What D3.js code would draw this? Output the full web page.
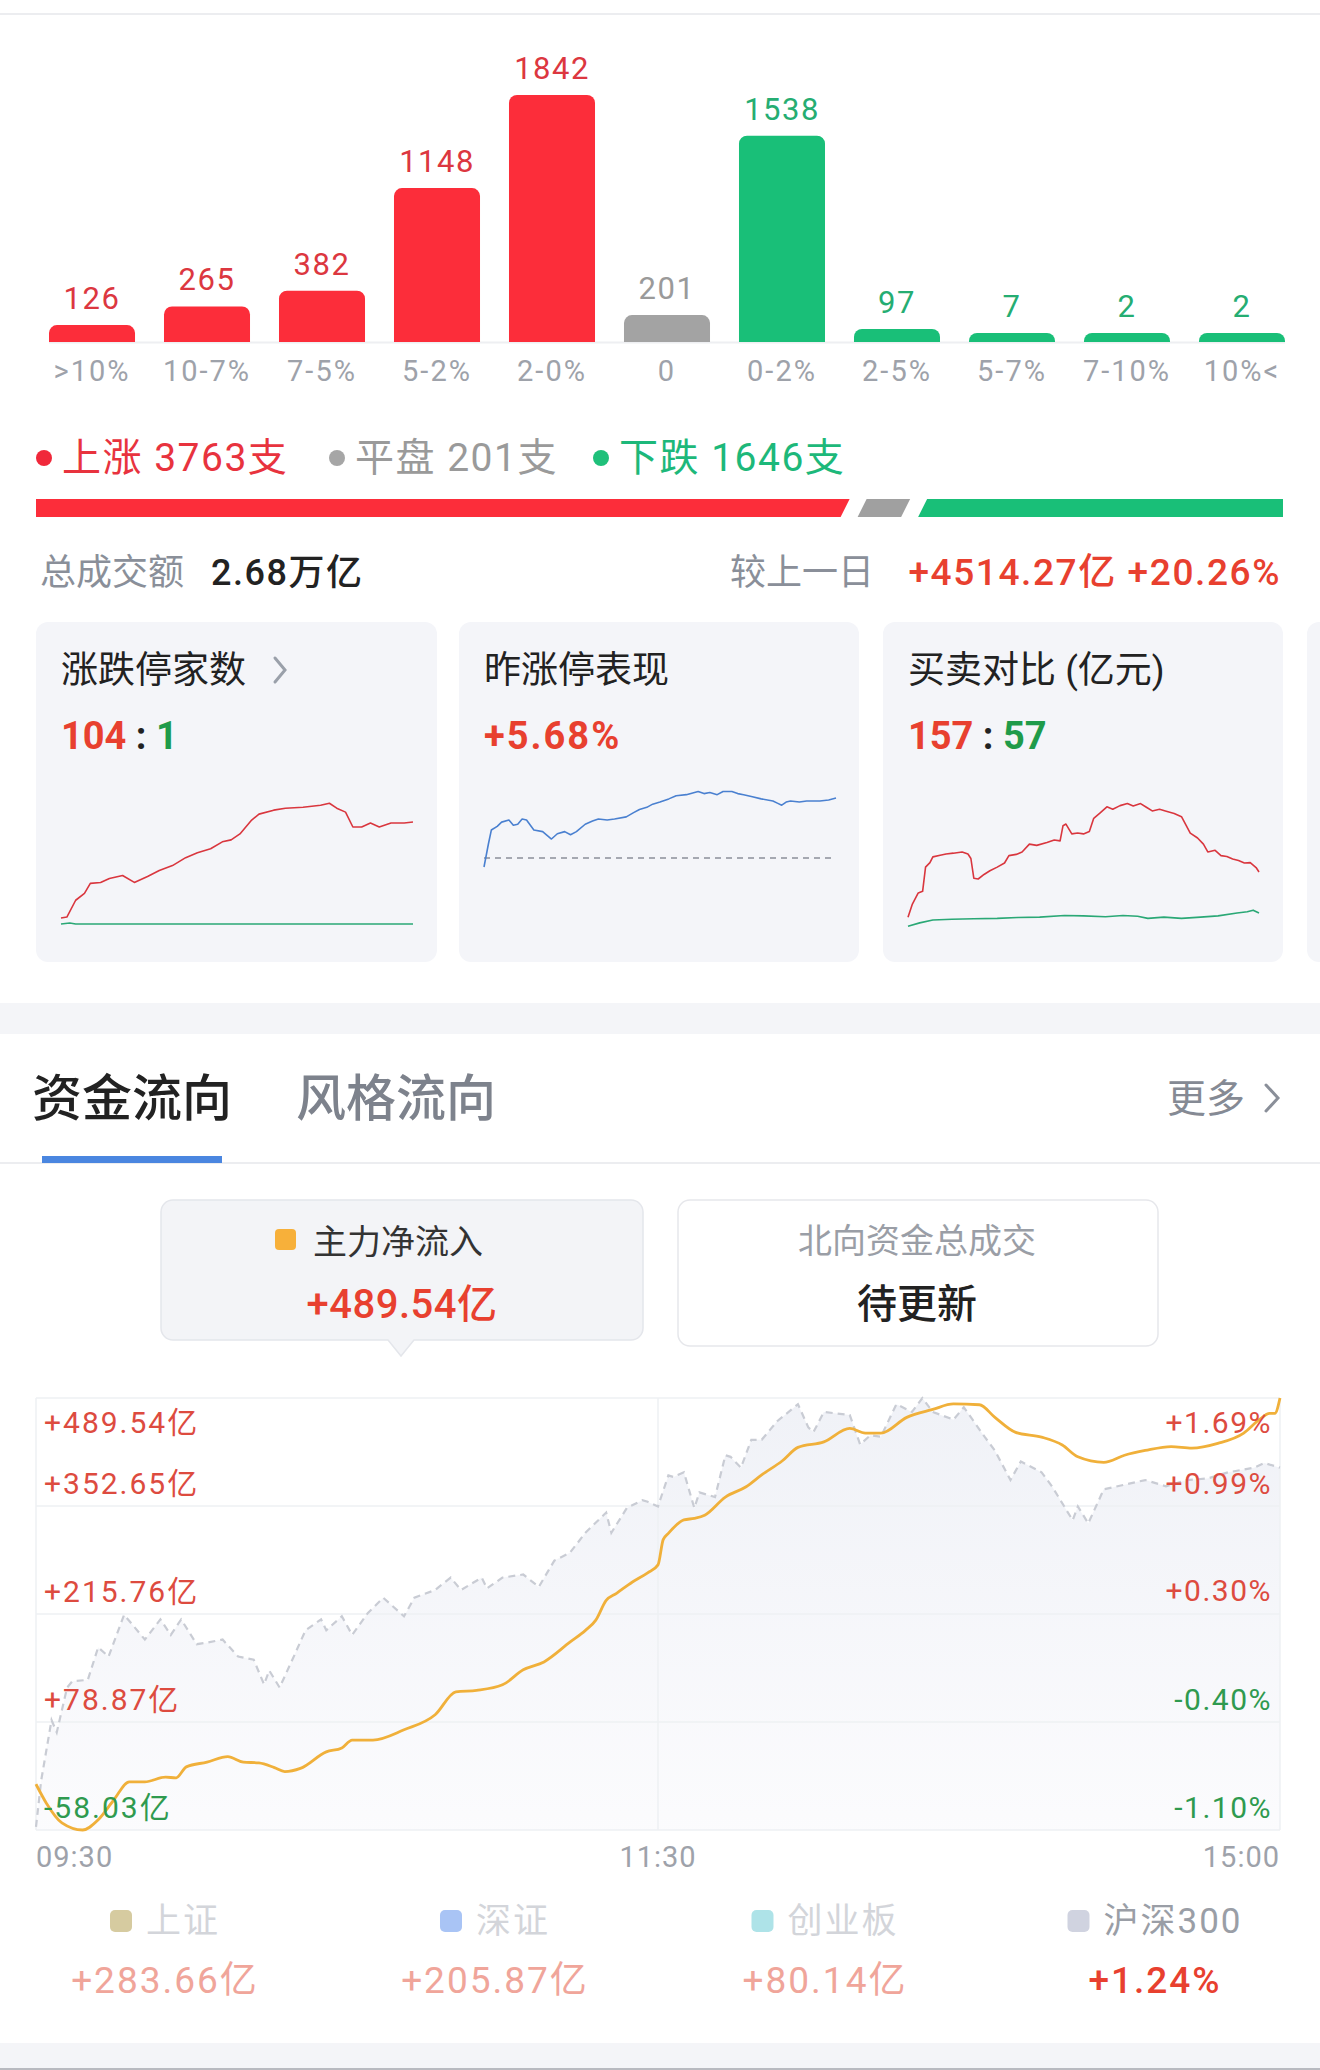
<!DOCTYPE html>
<html><head><meta charset="utf-8">
<script src="https://cdn.jsdelivr.net/npm/d3@7"></script>
<style>
html,body{margin:0;padding:0;background:#fff;}
svg{display:block;}
text{font-family:Roboto,"Noto Sans CJK SC",sans-serif;}
</style></head><body>
<svg id="c" width="1320" height="2070"></svg>
<script>
// ---------------- DATA ----------------
const bucketLabels = [">10%","10-7%","7-5%","5-2%","2-0%","0","0-2%","2-5%","5-7%","7-10%","10%<"];
const bucketCounts = [126,265,382,1148,1842,201,1538,97,7,2,2];
const bucketKinds  = ["up","up","up","up","up","flat","down","down","down","down","down"];

const breadthLabels = ["上涨","平盘","下跌"];
const breadthCounts = [3763,201,1646];

const turnoverLabel = "总成交额";
const turnoverValue = "2.68万亿";
const vsPrevLabel = "较上一日";
const vsPrevValue = "+4514.27亿 +20.26%";

const cardTitles = ["涨跌停家数","昨涨停表现","买卖对比 (亿元)"];
const limitUpCount = 104, limitDownCount = 1;
const prevLimitPerf = "+5.68%";
const buyAmount = 157, sellAmount = 57;

// mini chart series: [minute (0-240), value]
const limitUpSeries = [[0,7],[4,8],[10,25],[16,32],[20,42],[27,43],[33,47],[42,50],[50,43],[59,49],[67,55],[76,60],[85,68],[93,73],[102,77],[110,84],[116,86],[122,92],[130,106],[135,112],[145,116],[153,118],[165,119],[177,121],[183,123],[188,118],[194,114],[199,99],[205,99],[211,103],[217,99],[225,103],[234,103],[240,104]];
const limitDownSeries = [[0,1],[6,2],[10,1],[40,1],[120,1],[240,1]];
const prevLimitSeries = [[0,-0.85],[3,1.33],[5,2.65],[9,3.0],[12,3.4],[17,3.6],[20,3.1],[23,3.2],[26,3.7],[29,3.6],[34,2.65],[40,2.5],[46,1.8],[50,2.3],[55,2.5],[59,2.2],[63,2.5],[69,3.2],[74,3.5],[78,3.7],[84,3.6],[89,3.7],[97,3.9],[102,4.3],[106,4.6],[111,4.8],[115,5.1],[120,5.3],[126,5.6],[131,5.9],[138,6.0],[146,6.3],[150,6.1],[154,6.2],[159,6.0],[163,6.3],[169,6.3],[173,6.1],[177,6.0],[183,5.8],[189,5.6],[197,5.4],[200,5.2],[203,5.0],[206,5.3],[209,5.4],[215,5.3],[220,5.4],[229,5.4],[235,5.5],[240,5.68]];
const buySeries = [[0,47],[3,79],[7,106],[10,110],[12,169],[15,180],[17,194],[22,198],[26,201],[31,203],[37,206],[41,201],[43,190],[45,142],[48,140],[52,151],[56,160],[61,169],[66,179],[69,197],[74,200],[78,206],[83,225],[88,222],[95,229],[100,235],[104,233],[106,270],[108,274],[112,250],[116,252],[120,250],[124,256],[127,288],[131,300],[136,316],[140,310],[145,319],[150,324],[154,318],[159,324],[163,315],[167,306],[172,310],[176,306],[182,300],[187,292],[193,252],[198,240],[202,225],[205,206],[210,210],[214,197],[218,195],[222,189],[226,185],[230,179],[234,180],[236,174],[238,168],[240,157]];
const sellSeries = [[0,25],[8,33],[17,40],[30,42],[45,43],[61,44],[75,46],[90,47],[107,51],[120,50],[135,48],[147,51],[157,49],[164,44],[175,47],[187,44],[200,47],[212,50],[225,57],[232,60],[236,64],[240,57]];

// main chart
const mainFlowTitle = "主力净流入";
const mainFlowTotal = "+489.54亿";
const northTitle = "北向资金总成交";
const northValue = "待更新";
const leftTicks = [489.54,352.65,215.76,78.87,-58.03];
const leftTickLabels = ["+489.54亿","+352.65亿","+215.76亿","+78.87亿","-58.03亿"];
const rightTicks = [1.69,0.99,0.30,-0.40,-1.10];
const rightTickLabels = ["+1.69%","+0.99%","+0.30%","-0.40%","-1.10%"];
const timeTicks = [0,120,240];
const timeLabels = ["09:30","11:30","15:00"];
// 主力净流入 (亿), [minute, value]
const mainFlow = [[0,0],[2,-24],[5,-49],[9,-58.03],[12,-45],[15,-20],[18,3],[21,3],[25,9],[27,8],[29,22],[33,28],[37,35],[40,28],[43,27],[46,21],[48,16],[51,20],[56,41],[59,46],[61,56],[65,56],[71,69],[77,88],[81,117],[85,119],[90,126],[94,145],[98,155],[103,180],[106,195],[108,208],[110,233],[112,242],[115,256],[118,268],[120,278],[121,310],[122,318],[125,335],[127,337],[129,341],[133,364],[137,377],[140,392],[144,410],[147,427],[152,434],[157,451],[160,445],[163,445],[168,465],[173,475],[177,482],[182,481],[185,465],[189,446],[194,440],[198,430],[201,415],[206,408],[210,417],[214,423],[219,428],[223,426],[228,432],[233,445],[236,462],[238,470],[239,470],[240,489.54]];
// 沪深300 涨跌幅 (%), [minute, value]
const hs300 = [[0,-1.08],[1,-0.78],[3,-0.39],[4,-0.47],[6,-0.18],[7,-0.14],[10,-0.13],[12,0.08],[14,0.02],[17,0.29],[21,0.13],[24,0.26],[26,0.16],[28,0.26],[31,0.10],[33,0.11],[36,0.13],[39,0.02],[42,0.00],[44,-0.16],[45,-0.07],[47,-0.18],[50,0.04],[52,0.19],[55,0.26],[56,0.19],[59,0.28],[61,0.16],[64,0.30],[67,0.40],[71,0.28],[73,0.40],[77,0.45],[80,0.53],[82,0.45],[86,0.53],[87,0.46],[90,0.53],[94,0.55],[97,0.47],[100,0.64],[103,0.69],[106,0.82],[110,0.95],[111,0.82],[114,0.98],[117,1.03],[118,1.02],[120,0.99],[122,1.19],[123,1.18],[125,1.21],[127,0.98],[128,1.08],[131,1.05],[133,1.32],[134,1.31],[136,1.24],[138,1.42],[140,1.42],[143,1.54],[147,1.65],[149,1.50],[150,1.47],[152,1.60],[157,1.58],[159,1.39],[161,1.45],[163,1.44],[166,1.65],[169,1.60],[171,1.69],[173,1.60],[177,1.55],[179,1.63],[183,1.44],[185,1.35],[188,1.16],[190,1.28],[194,1.21],[196,1.12],[200,0.90],[201,0.99],[203,0.88],[206,1.10],[210,1.13],[214,1.16],[218,1.12],[222,1.16],[226,1.17],[230,1.21],[235,1.24],[237,1.27],[240,1.24]];

const tabLabels = ["资金流向","风格流向"];
const moreLabel = "更多";
const indexNames = ["上证","深证","创业板","沪深300"];
const indexValues = ["+283.66亿","+205.87亿","+80.14亿","+1.24%"];

// ---------------- DRAW ----------------
const W = 1320, H = 2070;
const svg = d3.select("#c");
const RED="#fc2d3a", GREEN="#19bf78", GRAY="#a3a3a3";
const TRED="#e8402f", TGREEN="#1f9b4a";

svg.append("rect").attr("width",W).attr("height",H).attr("fill","#fff");
svg.append("line").attr("x1",0).attr("x2",W).attr("y1",14).attr("y2",14).attr("stroke","#e6e7eb").attr("stroke-width",1.5);

function topRounded(x,y,w,h,r){
  r=Math.min(r,h,w/2);
  return `M${x},${y+h}V${y+r}A${r},${r} 0 0 1 ${x+r},${y}H${x+w-r}A${r},${r} 0 0 1 ${x+w},${y+r}V${y+h}Z`;
}

// ---- distribution bars
const xB = d3.scaleBand().domain(bucketLabels).range([49,1285]).paddingInner(0.252).paddingOuter(0);
const yB = d3.scaleLinear().domain([0,d3.max(bucketCounts)]).range([342,95]);
const barFill = {up:RED,flat:GRAY,down:GREEN};
const barText = {up:"#dc3740",flat:"#9a9a9a",down:"#25ad72"};
svg.append("line").attr("x1",49).attr("x2",1285).attr("y1",342.5).attr("y2",342.5).attr("stroke","#eeeff2").attr("stroke-width",2);
const bars = svg.append("g").selectAll("g").data(bucketLabels.map((l,i)=>({l,v:bucketCounts[i],k:bucketKinds[i]}))).join("g");
bars.append("path").attr("d",d=>{
  const h=Math.max(342-yB(d.v),9);
  return topRounded(xB(d.l),342-h,xB.bandwidth(),h,8);
}).attr("fill",d=>barFill[d.k]);
bars.append("text").attr("x",d=>xB(d.l)+xB.bandwidth()/2).attr("y",d=>342-Math.max(342-yB(d.v),9)-16)
  .attr("text-anchor","middle").attr("font-size",31).attr("letter-spacing",1.5).attr("fill",d=>barText[d.k]).text(d=>d.v);
bars.append("text").attr("x",d=>xB(d.l)+xB.bandwidth()/2).attr("y",381)
  .attr("text-anchor","middle").attr("font-size",29).attr("letter-spacing",2).attr("fill","#9ea2aa").text(d=>d.l);

// ---- breadth legend
const legCol=["#e8333e","#9a9a9a","#1db87a"];
const legDot=["#f0283a","#a6a6a6","#1fc07a"];
const legX=[44,337,601];
breadthLabels.forEach((l,i)=>{
  svg.append("circle").attr("cx",legX[i]).attr("cy",458).attr("r",8).attr("fill",legDot[i]);
  svg.append("text").attr("x",legX[i]+18).attr("y",471).attr("font-size",39).attr("letter-spacing",1.5).attr("fill",legCol[i])
    .text(`${l} ${breadthCounts[i]}支`);
});
// ---- breadth proportion bar
{
  const total=d3.sum(breadthCounts), gap=17, x0=36, x1=1283, slant=9, yt=499, yb=517;
  const wS=d3.scaleLinear().domain([0,total]).range([0,(x1-x0)-2*gap]);
  let s=x0;
  const cols=[RED,"#a0a0a0",GREEN];
  breadthCounts.forEach((c,i)=>{
    const e=s+wS(c);
    const last=i===breadthCounts.length-1, first=i===0;
    const pts=[[s,yt],[last?x1:e,yt],[last?x1:e-slant,yb],[first?s:s-slant,yb]];
    svg.append("polygon").attr("points",pts.map(p=>p.join(",")).join(" ")).attr("fill",cols[i]);
    s=e+gap;
  });
}
// ---- turnover row
svg.append("text").attr("x",40).attr("y",585).attr("font-size",36).attr("fill","#8a8f99").text(turnoverLabel);
svg.append("text").attr("x",211).attr("y",585).attr("font-size",36).attr("letter-spacing",1.5).attr("font-weight",500).attr("fill","#222").text(turnoverValue);
svg.append("text").attr("x",730).attr("y",585).attr("font-size",36).attr("fill","#8a8f99").text(vsPrevLabel);
svg.append("text").attr("x",1281).attr("y",585).attr("text-anchor","end").attr("font-size",37).attr("letter-spacing",1.6).attr("font-weight",500).attr("fill",TRED).text(vsPrevValue);

// ---- cards
const cardX=[36,459,883], cardW=[401,400,400];
cardX.forEach((x,i)=>{
  svg.append("rect").attr("x",x).attr("y",622).attr("width",cardW[i]).attr("height",340).attr("rx",12).attr("fill","#f4f5f9");
  svg.append("text").attr("x",x+25).attr("y",683).attr("font-size",37).attr("fill","#222").text(cardTitles[i]);
});
svg.append("rect").attr("x",1307).attr("y",622).attr("width",40).attr("height",340).attr("rx",12).attr("fill","#f4f5f9");
svg.append("path").attr("d","M275,658 L285,670 L275,682").attr("fill","none").attr("stroke","#9aa0aa").attr("stroke-width",3).attr("stroke-linecap","round");
function ratio(x,a,b){
  const t=svg.append("text").attr("x",x).attr("y",749).attr("font-size",38).attr("font-weight",700);
  t.append("tspan").attr("fill",TRED).text(a);
  t.append("tspan").attr("fill","#222").text(" : ");
  t.append("tspan").attr("fill",TGREEN).text(b);
}
ratio(61,limitUpCount,limitDownCount);
svg.append("text").attr("x",484).attr("y",749).attr("font-size",38).attr("letter-spacing",2).attr("font-weight",700).attr("fill",TRED).text(prevLimitPerf);
ratio(908,buyAmount,sellAmount);

// mini charts
function mini(x0,x1,domain,range,series){
  const x=d3.scaleLinear().domain([0,240]).range([x0,x1]);
  const y=d3.scaleLinear().domain(domain).range(range);
  series.forEach(s=>{
    const p=svg.append("path").attr("d",d3.line().x(d=>x(d[0])).y(d=>y(d[1]))(s.data))
      .attr("fill","none").attr("stroke",s.color).attr("stroke-width",s.w||1.6).attr("stroke-linejoin","round");
    if(s.dash) p.attr("stroke-dasharray",s.dash);
  });
}
mini(61,413,[0,130],[925,796.3],[{data:limitDownSeries,color:"#2aa876"},{data:limitUpSeries,color:"#d9363e"}]);
mini(484,836,[-1,7],[868.6,784.1],[{data:[[0,0],[240,0]],color:"#8a8f99",dash:"6,5",w:1.5},{data:prevLimitSeries,color:"#4a80d0"}]);
mini(908,1259,[0,340],[936.4,797],[{data:sellSeries,color:"#2aa876"},{data:buySeries,color:"#d9363e"}]);

// ---- gray separator band
svg.append("rect").attr("x",0).attr("y",1003).attr("width",W).attr("height",31).attr("fill","#f4f5f8");

// ---- tabs
svg.append("text").attr("x",32).attr("y",1116).attr("font-size",50).attr("font-weight",500).attr("fill","#222").text(tabLabels[0]);
svg.append("text").attr("x",296).attr("y",1116).attr("font-size",50).attr("font-weight",500).attr("fill","#7d828c").text(tabLabels[1]);
svg.append("text").attr("x",1167).attr("y",1112).attr("font-size",39).attr("fill","#858a94").text(moreLabel);
svg.append("path").attr("d","M1266,1085 L1278,1098 L1266,1111").attr("fill","none").attr("stroke","#8a8f99").attr("stroke-width",3).attr("stroke-linecap","round");
svg.append("line").attr("x1",0).attr("x2",W).attr("y1",1163).attr("y2",1163).attr("stroke","#e6e7eb").attr("stroke-width",1.5);
svg.append("rect").attr("x",42).attr("y",1156).attr("width",180).attr("height",7).attr("fill","#4a86e0");

// ---- info boxes
svg.append("path").attr("d","M173,1200 H631 A12,12 0 0 1 643,1212 V1328 A12,12 0 0 1 631,1340 H414 L401,1356 L388,1340 H173 A12,12 0 0 1 161,1328 V1212 A12,12 0 0 1 173,1200 Z")
  .attr("fill","#f3f4f7").attr("stroke","#e4e6eb").attr("stroke-width",1.5);
svg.append("rect").attr("x",275).attr("y",1229).attr("width",21).attr("height",21).attr("rx",4).attr("fill","#f7b03a");
svg.append("text").attr("x",313).attr("y",1254).attr("font-size",34).attr("fill","#333").text(mainFlowTitle);
svg.append("text").attr("x",402).attr("y",1318).attr("text-anchor","middle").attr("font-size",40).attr("letter-spacing",0.5).attr("font-weight",500).attr("fill",TRED).text(mainFlowTotal);
svg.append("rect").attr("x",678).attr("y",1200).attr("width",480).attr("height",146).attr("rx",12).attr("fill","#fff").attr("stroke","#e6e7eb").attr("stroke-width",1.5);
svg.append("text").attr("x",917).attr("y",1253).attr("text-anchor","middle").attr("font-size",34).attr("fill","#9a9ea6").text(northTitle);
svg.append("text").attr("x",917).attr("y",1318).attr("text-anchor","middle").attr("font-size",40).attr("font-weight",500).attr("fill","#222").text(northValue);

// ---- main chart
const PX0=36, PX1=1280, PY0=1398, PY1=1830;
const xM=d3.scaleLinear().domain([0,240]).range([PX0,PX1]);
const yL=d3.scaleLinear().domain([d3.min(leftTicks),d3.max(leftTicks)]).range([PY1,PY0]);
const yR=d3.scaleLinear().domain([d3.min(rightTicks),d3.max(rightTicks)]).range([PY1,PY0]);
const defs=svg.append("defs");
const gr=defs.append("linearGradient").attr("id","ag").attr("x1",0).attr("y1",0).attr("x2",0).attr("y2",1);
gr.append("stop").attr("offset","0%").attr("stop-color","#eef0f6");
gr.append("stop").attr("offset","100%").attr("stop-color","#fbfbfd");
svg.append("path").attr("d",d3.area().x(d=>xM(d[0])).y0(PY1).y1(d=>yR(d[1]))(hs300)).attr("fill","url(#ag)").attr("opacity",0.9);
// grid
svg.append("g").selectAll("line").data(leftTicks).join("line")
  .attr("x1",PX0).attr("x2",PX1).attr("y1",d=>yL(d)).attr("y2",d=>yL(d)).attr("stroke","#eef0f3").attr("stroke-width",1.5);
svg.append("line").attr("x1",PX0).attr("x2",PX0).attr("y1",PY0).attr("y2",PY1).attr("stroke","#eef0f3").attr("stroke-width",1.5);
svg.append("line").attr("x1",PX1).attr("x2",PX1).attr("y1",PY0).attr("y2",PY1).attr("stroke","#eef0f3").attr("stroke-width",1.5);
svg.append("line").attr("x1",xM(120)).attr("x2",xM(120)).attr("y1",PY0).attr("y2",PY1).attr("stroke","#eef0f3").attr("stroke-width",1.5);
// lines
svg.append("path").attr("d",d3.line().x(d=>xM(d[0])).y(d=>yR(d[1]))(hs300)).attr("fill","none")
  .attr("stroke","#c9ccd4").attr("stroke-width",2.2).attr("stroke-dasharray","7,5");
svg.append("path").attr("d",d3.line().curve(d3.curveMonotoneX).x(d=>xM(d[0])).y(d=>yL(d[1]))(mainFlow)).attr("fill","none")
  .attr("stroke","#f0b03a").attr("stroke-width",2.8).attr("stroke-linejoin","round");
// tick labels
leftTicks.forEach((v,i)=>{
  svg.append("text").attr("x",44).attr("y",yL(v)+(i===0?35:-12)).attr("font-size",30).attr("letter-spacing",2)
    .attr("fill",v>=0?"#dd4b3f":"#2f9a4f").text(leftTickLabels[i]);
});
rightTicks.forEach((v,i)=>{
  svg.append("text").attr("x",1272).attr("y",yR(v)+(i===0?35:-12)).attr("text-anchor","end").attr("font-size",30).attr("letter-spacing",1.5)
    .attr("fill",v>=0?"#dd4b3f":"#2f9a4f").text(rightTickLabels[i]);
});
timeTicks.forEach((t,i)=>{
  svg.append("text").attr("x",xM(t)).attr("y",1867).attr("font-size",29).attr("letter-spacing",1).attr("fill","#9ea2aa")
    .attr("text-anchor",i===0?"start":(i===timeTicks.length-1?"end":"middle")).text(timeLabels[i]);
});

// ---- bottom index legend
const sqCol=["#d6cba0","#a9c4f5","#aee3e8","#d0d3e0"];
indexNames.forEach((n,i)=>{
  const cx=165+330*i;
  const active=i===3;
  const t=svg.append("text").attr("x",0).attr("y",1933).attr("font-size",35).attr("letter-spacing",2).attr("fill",active?"#9a9ea6":"#d3d5da").text(n);
  const tw=t.node().getComputedTextLength();
  const total=22+14+tw;
  const sx=cx-total/2;
  svg.append("rect").attr("x",sx).attr("y",1910).attr("width",22).attr("height",22).attr("rx",5).attr("fill",sqCol[i]);
  t.attr("x",sx+36);
  svg.append("text").attr("x",cx).attr("y",1993).attr("text-anchor","middle").attr("font-size",37).attr("letter-spacing",2)
    .attr("font-weight",active?500:400).attr("fill",active?TRED:"#f0a59a").text(indexValues[i]);
});
svg.append("rect").attr("x",0).attr("y",2043).attr("width",W).attr("height",27).attr("fill","#f4f5f8");
svg.append("line").attr("x1",0).attr("x2",W).attr("y1",2069).attr("y2",2069).attr("stroke","#b8bac0").attr("stroke-width",2);
</script>
</body></html>
